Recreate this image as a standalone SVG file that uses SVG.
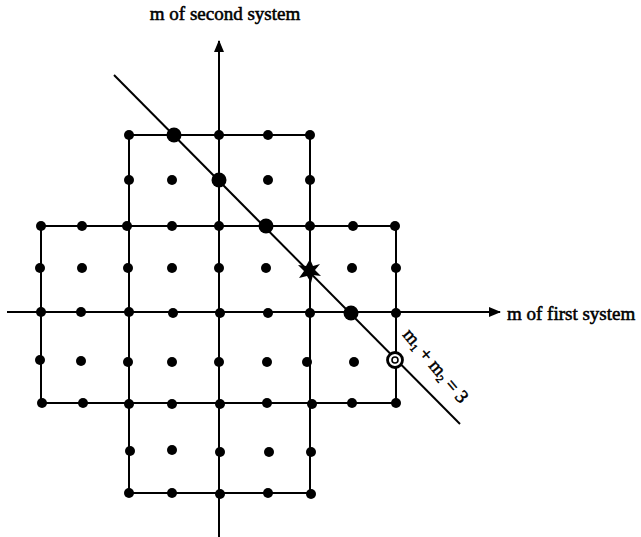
<svg xmlns="http://www.w3.org/2000/svg" width="641" height="537" viewBox="0 0 641 537">
<defs>
<style>
.ln{stroke:#000;stroke-width:2;fill:none}
.dot{fill:#000}
.txt{font-family:"Liberation Serif","Times New Roman",serif;font-size:19px;fill:#000;stroke:#000;stroke-width:0.55}
</style>
<marker id="ah" viewBox="0 0 12 10" refX="11" refY="5" markerWidth="12" markerHeight="10" markerUnits="userSpaceOnUse" orient="auto">
<path d="M0,0 L12,5 L0,10 Z" fill="#000"/>
</marker>
<circle id="d" r="5" class="dot"/>
<circle id="D" r="7.5" class="dot"/>
</defs>
<rect width="641" height="537" fill="#fff"/>
<g id="connectors">
<line class="ln" x1="219" y1="537" x2="219" y2="41" marker-end="url(#ah)"/>
<line class="ln" x1="7" y1="312" x2="500" y2="312" marker-end="url(#ah)"/>
<path class="ln" d="M129,135 H310 V493 H129 Z M41,226 H396 V403 H41 Z M219,135 V493 M129,226 V403 M310,226 V403 M41,312 H396 M129,403 H310 M129,226 H310"/>
<line class="ln" x1="114" y1="75" x2="460" y2="424"/>
</g>
<g id="dots">
<use href="#d" x="129" y="135"/><use href="#D" x="174" y="135"/><use href="#d" x="219" y="135"/><use href="#d" x="268" y="135"/><use href="#d" x="310" y="135"/>
<use href="#d" x="129" y="180"/><use href="#d" x="172" y="180"/><use href="#D" x="219" y="180"/><use href="#d" x="268" y="180"/><use href="#d" x="310" y="180"/>
<use href="#d" x="41" y="226"/><use href="#d" x="82" y="226"/><use href="#d" x="127" y="226"/><use href="#d" x="172" y="226"/><use href="#d" x="219" y="226"/><use href="#D" x="266" y="226"/><use href="#d" x="310" y="226"/><use href="#d" x="353" y="226"/><use href="#d" x="395" y="226"/>
<use href="#d" x="40" y="268"/><use href="#d" x="82" y="268"/><use href="#d" x="128" y="268"/><use href="#d" x="172" y="268"/><use href="#d" x="219" y="268"/><use href="#d" x="266" y="268"/><use href="#d" x="352" y="268"/><use href="#d" x="396" y="268"/>
<use href="#d" x="41" y="312"/><use href="#d" x="81" y="312"/><use href="#d" x="129" y="312"/><use href="#d" x="173" y="313"/><use href="#d" x="220" y="313"/><use href="#d" x="268" y="313"/><use href="#d" x="310" y="313"/><use href="#D" x="351" y="313"/><use href="#d" x="396" y="313"/>
<use href="#d" x="40" y="360"/><use href="#d" x="81" y="361"/><use href="#d" x="128" y="362"/><use href="#d" x="172" y="362"/><use href="#d" x="219" y="362"/><use href="#d" x="267" y="362"/><use href="#d" x="307" y="362"/><use href="#d" x="354" y="362"/>
<use href="#d" x="42" y="403"/><use href="#d" x="83" y="403"/><use href="#d" x="129" y="404"/><use href="#d" x="172" y="404"/><use href="#d" x="220" y="404"/><use href="#d" x="267" y="403"/><use href="#d" x="312" y="404"/><use href="#d" x="352" y="403"/><use href="#d" x="396" y="403"/>
<use href="#d" x="130" y="451"/><use href="#d" x="172" y="450"/><use href="#d" x="220" y="452"/><use href="#d" x="269" y="452"/><use href="#d" x="311" y="452"/>
<use href="#d" x="129" y="493"/><use href="#d" x="172" y="493"/><use href="#d" x="220" y="494"/><use href="#d" x="268" y="493"/><use href="#d" x="311" y="494"/>
</g>
<g id="star">
<path d="M310,259 L313,266 L320,264 L315,270 L321,276 L313,275 L311,283 L307,276 L299,278 L304,271 L298,265 L306,266 Z" fill="#000"/>
</g>
<g id="circled">
<circle cx="395" cy="360" r="7.5" fill="#fff" stroke="#000" stroke-width="2.8"/>
<circle cx="395" cy="360" r="3" fill="none" stroke="#000" stroke-width="1.6"/>
</g>
<g id="labels">
<text class="txt" x="225" y="20" text-anchor="middle">m of second system</text>
<text class="txt" x="507" y="320">m of first system</text>
<text class="txt" font-size="20" transform="translate(402,335) rotate(50)">m<tspan font-size="11" dy="3">1</tspan><tspan dy="-3"> + m</tspan><tspan font-size="11" dy="3">2</tspan><tspan dy="-3"> = 3</tspan></text>
</g>
</svg>
